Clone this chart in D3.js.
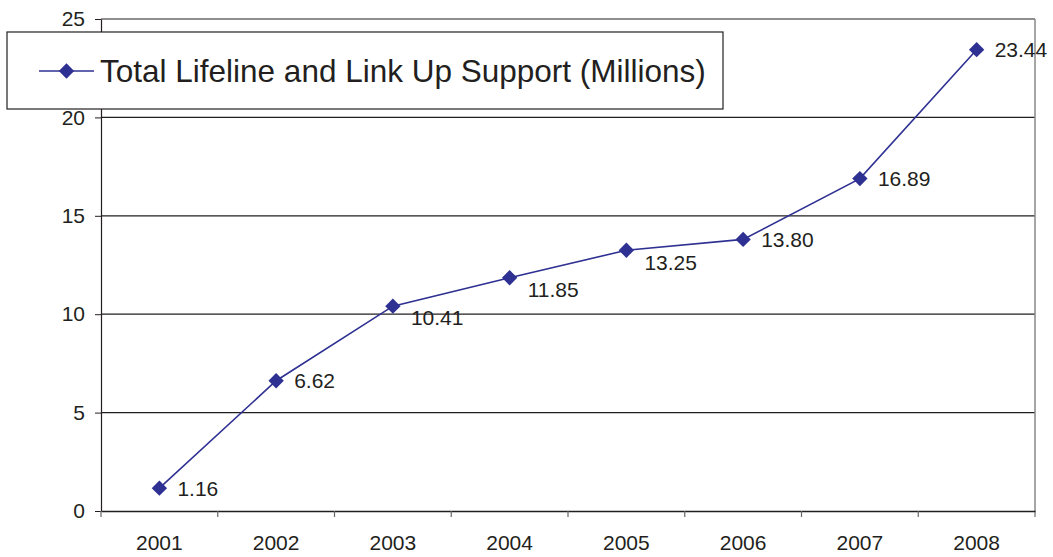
<!DOCTYPE html>
<html>
<head>
<meta charset="utf-8">
<script src="https://cdn.jsdelivr.net/npm/d3@7"></script>
<style>
  body { margin: 0; background: #fff; }
  text { font-family: "Liberation Sans", Arial, sans-serif; fill: #231f20; }
</style>
</head>
<body>
<div id="chart"></div>
<script>
const years = ["2001", "2002", "2003", "2004", "2005", "2006", "2007", "2008"];
const support = [1.16, 6.62, 10.41, 11.85, 13.25, 13.80, 16.89, 23.44];
const yTicks = [0, 5, 10, 15, 20, 25];
const seriesName = "Total Lifeline and Link Up Support (Millions)";

let margin = { top: 19, right: 18, bottom: 46, left: 101 },
  width = 1053 - margin.left - margin.right,
  height = 557 - margin.top - margin.bottom;

const lineColor = "#2e3192";

const svg = d3.select("#chart")
  .append("svg")
  .attr("width", width + margin.left + margin.right)
  .attr("height", height + margin.top + margin.bottom)
  .append("g")
  .attr("transform", `translate(${margin.left}, ${margin.top})`);

const x = d3.scaleBand()
  .domain(years)
  .range([0, width]);

const y = d3.scaleLinear()
  .domain([0, 25])
  .range([height, 0]);

// gridlines
svg.append("g")
  .selectAll("line")
  .data(yTicks.filter(d => d > 0))
  .join("line")
  .attr("x1", 0)
  .attr("x2", width)
  .attr("y1", d => y(d))
  .attr("y2", d => y(d))
  .attr("stroke", "#231f20")
  .attr("stroke-width", 1.2);

// right border (gray)
svg.append("line")
  .attr("x1", width).attr("x2", width)
  .attr("y1", 0).attr("y2", height + 6)
  .attr("stroke", "#888")
  .attr("stroke-width", 1.5);

// Y axis
const yAxis = svg.append("g")
  .call(d3.axisLeft(y).tickValues(yTicks).tickSize(6).tickSizeOuter(0).tickPadding(10));
yAxis.select(".domain").attr("stroke", "#231f20").attr("stroke-width", 1.2);
yAxis.selectAll(".tick line").attr("stroke", "#231f20");
yAxis.selectAll("text").style("font-size", "21px").attr("fill", "#231f20");

// X axis: ticks at band edges
const xAxis = svg.append("g")
  .attr("transform", `translate(0, ${height})`)
  .call(d3.axisBottom(x).tickSize(0).tickPadding(24));
xAxis.select(".domain").attr("stroke", "#231f20").attr("stroke-width", 1.5);
xAxis.selectAll("text").style("font-size", "21px").attr("fill", "#231f20");
svg.append("g")
  .selectAll("line")
  .data(years)
  .join("line")
  .attr("x1", d => x(d))
  .attr("x2", d => x(d))
  .attr("y1", height)
  .attr("y2", height + 6)
  .attr("stroke", "#666")
  .attr("stroke-width", 1.2);

const cx = (d, i) => x(years[i]) + x.bandwidth() / 2;

// line
svg.append("path")
  .datum(support)
  .attr("fill", "none")
  .attr("stroke", lineColor)
  .attr("stroke-width", 1.6)
  .attr("d", d3.line().x(cx).y(d => y(d)));

const diamond = d3.symbol().type(d3.symbolDiamond2).size(150);

// markers
svg.append("g")
  .selectAll("path")
  .data(support)
  .join("path")
  .attr("d", diamond)
  .attr("fill", lineColor)
  .attr("transform", (d, i) => `translate(${cx(d, i)}, ${y(d)})`);

// labels: right of point, pushed down where the next segment is shallow
svg.append("g")
  .selectAll("text")
  .data(support)
  .join("text")
  .attr("x", (d, i) => cx(d, i) + 18)
  .attr("y", (d, i) => {
    const next = support[i + 1];
    const shallow = next !== undefined && (y(d) - y(next)) < 40;
    return y(d) + (shallow ? 12 : 0);
  })
  .attr("dy", "0.35em")
  .style("font-size", "21px")
  .text(d => d.toFixed(2));

// legend
const legend = svg.append("g")
  .attr("transform", `translate(${7 - margin.left}, ${32 - margin.top})`);
legend.append("rect")
  .attr("width", 716)
  .attr("height", 77)
  .attr("fill", "#fff")
  .attr("stroke", "#231f20")
  .attr("stroke-width", 1.2);
legend.append("line")
  .attr("x1", 32).attr("x2", 87)
  .attr("y1", 39).attr("y2", 39)
  .attr("stroke", lineColor)
  .attr("stroke-width", 1.6);
legend.append("path")
  .attr("d", diamond)
  .attr("fill", lineColor)
  .attr("transform", "translate(59.5, 39)");
legend.append("text")
  .attr("x", 93)
  .attr("y", 39)
  .attr("dy", "0.35em")
  .style("font-size", "31.5px")
  .text(seriesName);
</script>
</body>
</html>
